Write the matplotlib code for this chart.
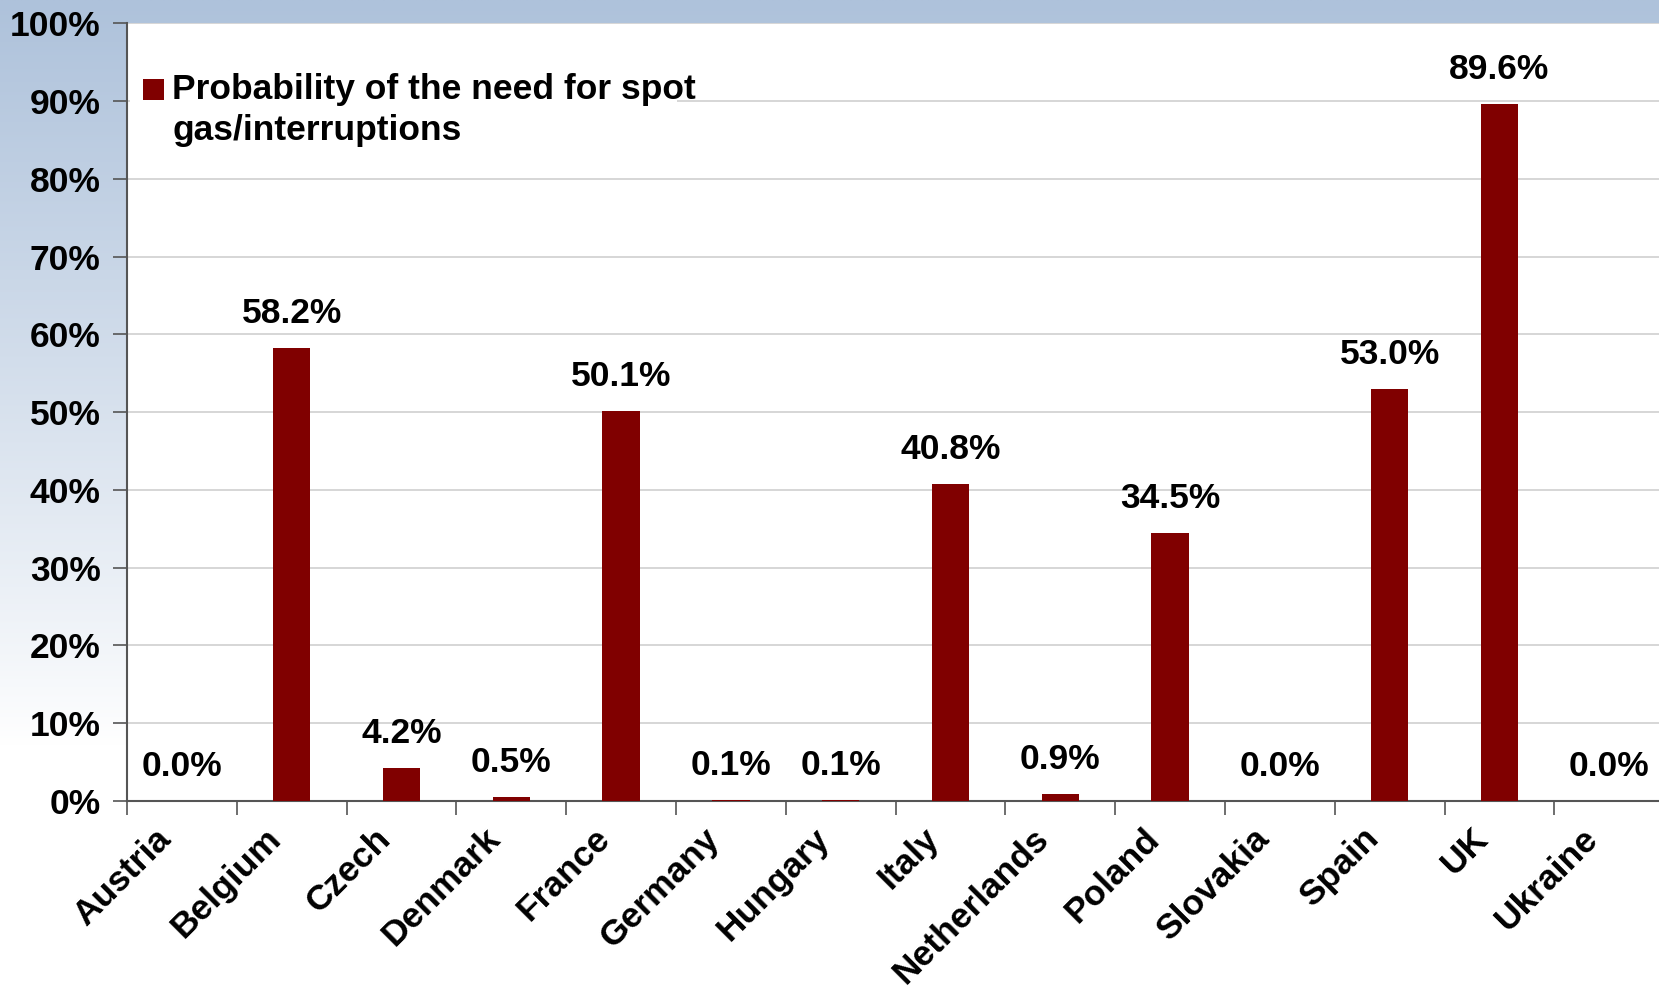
import numpy as np
import matplotlib.pyplot as plt
from matplotlib.patches import Rectangle
from matplotlib.colors import to_rgb

countries = ['Austria', 'Belgium', 'Czech', 'Denmark', 'France', 'Germany', 'Hungary',
             'Italy', 'Netherlands', 'Poland', 'Slovakia', 'Spain', 'UK', 'Ukraine']
prob = [0.0, 58.2, 4.2, 0.5, 50.1, 0.1, 0.1, 40.8, 0.9, 34.5, 0.0, 53.0, 89.6, 0.0]
y_ticks = [0, 10, 20, 30, 40, 50, 60, 70, 80, 90, 100]
legend_label = ['Probability of the need for spot', 'gas/interruptions']

plt.rcParams['font.family'] = ['Liberation Sans', 'DejaVu Sans']
plt.rcParams['font.weight'] = 'bold'

bar_color = '#800000'
fs = 25.5
fig = plt.figure(figsize=(16.59, 9.92), dpi=100)

# background: blue fading to white down the page
bg = fig.add_axes([0, 0, 1, 1])
h = 400
t = np.linspace(0, 1, h)[:, None]
a = np.clip(1 - t / 0.75, 0, 1) ** 0.9
blue = np.array(to_rgb('#aec2db'))
img = (1 - a)[..., None] * np.ones(3) + a[..., None] * blue
img = np.repeat(img, 4, axis=1)
bg.imshow(img, aspect='auto', extent=[0, 1, 0, 1], interpolation='bilinear')
bg.set_axis_off()

ax = fig.add_axes([0.0766, 0.1925, 0.9265, 0.784])
ax.set_facecolor('white')
x = np.arange(len(countries))
ax.bar(x, prob, width=0.34, color=bar_color, zorder=3)

for xi, v in zip(x, prob):
    ax.annotate(f'{v:.1f}%', (xi, v), xytext=(0, 13), textcoords='offset points',
                ha='center', va='bottom', fontsize=fs, fontweight='bold')

ax.set_xlim(-0.5, len(countries) - 0.5)
ax.set_ylim(0, 100)
ax.set_yticks(y_ticks)
ax.set_yticklabels([f'{v}%' for v in y_ticks], fontsize=fs, fontweight='bold')
ax.yaxis.grid(True, color='#cfcfcf', linewidth=1.2, zorder=0)
ax.set_axisbelow(True)

# category names, rotated, ending just left of each category centre
ax.set_xticks(x)
ax.set_xticklabels([])
ax.tick_params(axis='x', which='major', length=0)
for xi, name in zip(x, countries):
    ax.annotate(name, (xi, 0), xytext=(-20, -15), textcoords='offset points',
                rotation=45, ha='right', va='top', rotation_mode='anchor',
                fontsize=fs, fontweight='bold', annotation_clip=False)
ax.set_xticks(np.arange(len(countries)) - 0.5, minor=True)
ax.tick_params(axis='x', which='minor', length=10, width=1.2, color='#555555', direction='out')
ax.tick_params(axis='y', length=10, width=1.2, color='#555555', pad=9)

for s in ['top', 'right']:
    ax.spines[s].set_visible(False)
for s in ['left', 'bottom']:
    ax.spines[s].set_color('#555555')
    ax.spines[s].set_linewidth(1.5)

# legend box: white panel, marker on the first line
ax.add_patch(Rectangle((0.002, 0.84), 0.356, 0.115, transform=ax.transAxes,
                       facecolor='white', edgecolor='none', zorder=2.4))
ax.add_patch(Rectangle((0.0105, 0.902), 0.0135, 0.027, transform=ax.transAxes,
                       facecolor=bar_color, edgecolor='none', zorder=5))
ax.text(0.0295, 0.915, legend_label[0], transform=ax.transAxes, fontsize=fs,
        fontweight='bold', va='center', ha='left', zorder=6)
ax.text(0.0295, 0.862, legend_label[1], transform=ax.transAxes, fontsize=fs,
        fontweight='bold', va='center', ha='left', zorder=6)

fig.savefig('out.png', dpi=100)
